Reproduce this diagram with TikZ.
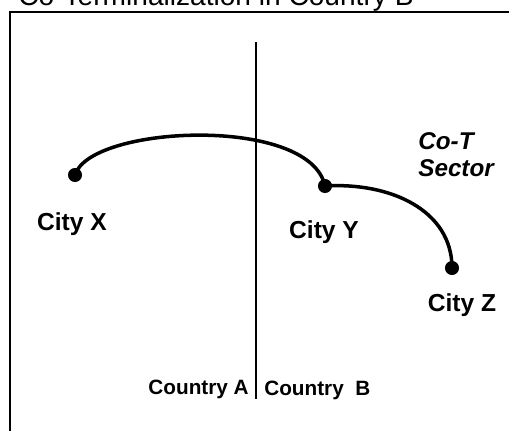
\documentclass[tikz,border=0pt]{standalone}
\usepackage{fontspec}
\setmainfont{Liberation Sans}

\tikzset{
  city/.style={circle,fill=black,inner sep=0pt,minimum size=8pt},
  citylabel/.style={font=\fontsize{14}{16}\selectfont\bfseries,inner sep=0pt},
  countrylabel/.style={font=\fontsize{11.8}{14}\selectfont\bfseries,inner sep=0pt},
  route/.style={line width=2pt},
}

\begin{document}
\begin{tikzpicture}[x=0.02cm,y=-0.02cm]
  \useasboundingbox (0,0) rectangle (509,430);
  \clip (0,0) rectangle (509,430);

  \node[anchor=base west,inner sep=0pt,font=\fontsize{16}{18}\selectfont] (title) at (18,5) {Co-Terminalization in Country B};
  \draw[line width=1.1pt] (10,440) -- (10,12) -- (520,12);
  \draw[line width=0.6pt] (256,42) -- (256,399);

  \node[city] (x) at (75,175) {};
  \node[city] (y) at (325,186) {};
  \node[city] (z) at (452,268) {};

  \node[citylabel] (xlab) at (72,224) {City X};
  \node[citylabel] (ylab) at (324,232) {City Y};
  \node[citylabel] (zlab) at (462,305) {City Z};
  \node[citylabel,font=\fontsize{13.8}{15.5}\selectfont\bfseries\itshape,align=left,anchor=north west] (sector) at (418,132) {Co-T\\Sector};
  \node[countrylabel,anchor=east] (ca) at (249,389) {Country A};
  \node[countrylabel,anchor=west] (cb) at (264,390) {Country\ \ B};

  \draw[route] (x.center) .. controls (90,125) and (310,115) .. (y.center);
  \draw[route] (y.center) .. controls (390,182) and (452,210) .. (z.center);
\end{tikzpicture}
\end{document}
